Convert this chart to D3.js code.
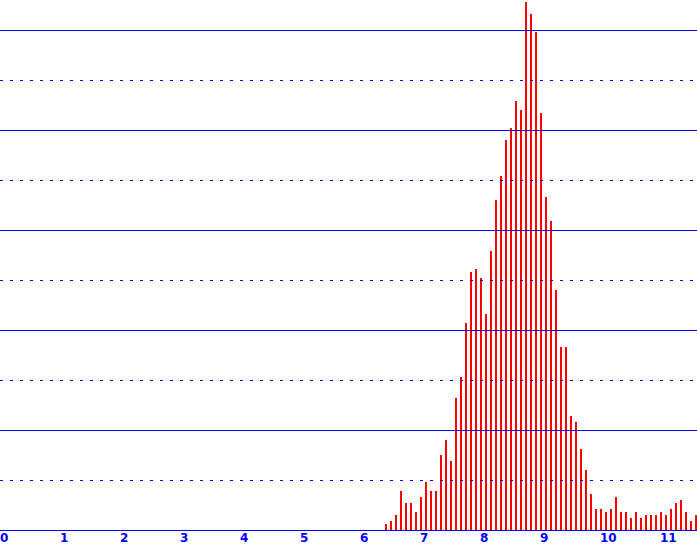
<!DOCTYPE html>
<html>
<head>
<meta charset="utf-8">
<script src="https://cdn.jsdelivr.net/npm/d3@7"></script>
<style>
  html, body { margin: 0; padding: 0; background: #fff; overflow: hidden; }
  svg { display: block; }
</style>
</head>
<body>
<svg id="chart"></svg>
<script>
'use strict'

// histogram bins are 1/12 unit wide, first bin starts at 77/12
const firstBin = 77
const binsPerUnit = 12

const counts = [
  2, 3, 5, 13, 9, 9, 6, 11, 16, 13,
  13, 25, 30, 23, 44, 51, 69, 86, 87, 84,
  72, 93, 110, 118, 130, 134, 143, 140, 176, 172,
  166, 139, 111, 103, 80, 61, 61, 38, 36, 27,
  20, 12, 7, 7, 6, 7, 11, 6, 6, 4,
  6, 4, 5, 5, 5, 6, 5, 7, 9, 10,
  6, 3, 5
]

const tickLabels = ['0', '1', '2', '3', '4', '5', '6', '7', '8', '9', '10', '11']

const width = 697
const height = 550
const baseY = 530
const pxPerUnit = 60
const gridSpacing = 50

const svg = d3.select('#chart')
  .attr('width', width)
  .attr('height', height)

const x = d3.scaleLinear()
  .domain([0, width / pxPerUnit])
  .range([0, width])

// one count is 3px high
const y = d3.scaleLinear()
  .domain([0, baseY / 3])
  .range([baseY, 0])

const gridValues = d3.range(1, 11).map(k => y.invert(baseY - k * gridSpacing))

svg.append('g')
  .attr('class', 'bars')
  .selectAll('rect')
  .data(counts)
  .enter()
  .append('rect')
  .attr('x', (d, i) => x((firstBin + i) / binsPerUnit))
  .attr('y', d => y(d))
  .attr('width', 2)
  .attr('height', d => y(0) - y(d))
  .attr('fill', '#ff0000')
  .attr('shape-rendering', 'crispEdges')

svg.append('g')
  .attr('class', 'grid')
  .selectAll('line')
  .data(gridValues)
  .enter()
  .append('line')
  .attr('x1', 0)
  .attr('x2', width)
  .attr('y1', d => Math.round(y(d)) + 0.5)
  .attr('y2', d => Math.round(y(d)) + 0.5)
  .attr('stroke', '#0000ff')
  .attr('stroke-width', 1)
  .attr('stroke-dasharray', (d, i) => i % 2 === 0 ? '3,7' : null)
  .attr('shape-rendering', 'crispEdges')

svg.append('line')
  .attr('x1', 0)
  .attr('x2', width)
  .attr('y1', y(0) + 0.5)
  .attr('y2', y(0) + 0.5)
  .attr('stroke', '#0000ff')
  .attr('stroke-width', 1)
  .attr('shape-rendering', 'crispEdges')

svg.append('g')
  .attr('class', 'labels')
  .selectAll('text')
  .data(tickLabels)
  .enter()
  .append('text')
  .attr('x', (d, i) => x(i))
  .attr('y', 542)
  .attr('fill', '#0000ff')
  .style('font-family', '"DejaVu Sans", sans-serif')
  .style('font-weight', 'bold')
  .style('font-size', '12px')
  .text(d => d)
</script>
</body>
</html>
